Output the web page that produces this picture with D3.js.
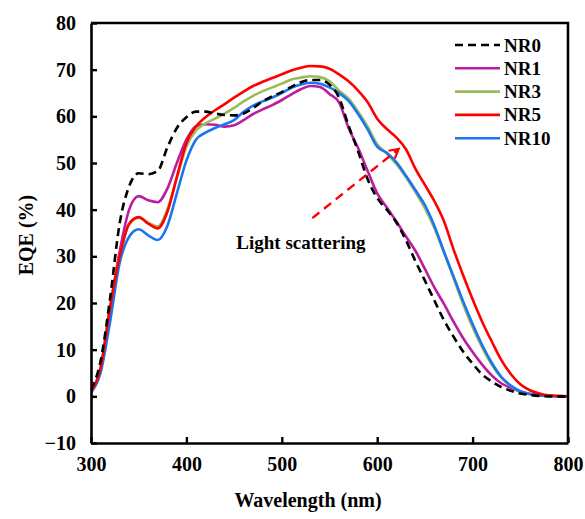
<!DOCTYPE html>
<html>
<head>
<meta charset="utf-8">
<script src="https://cdn.jsdelivr.net/npm/d3@7"></script>
<style>
  body { margin: 0; background: #fff; }
  text { font-family: "Liberation Serif", "Times New Roman", serif; font-weight: bold; }
</style>
</head>
<body>
<script>
// wavelength grid (nm)
const wavelength = [300,310,320,330,340,350,360,370,380,390,400,410,420,430,440,450,460,470,480,490,500,
  510,520,530,540,550,560,570,580,590,600,610,620,630,640,650,660,670,680,690,700,
  710,720,730,740,750,760,770,780,790,800];

// EQE (%) per sample
const nr0 = [1.5,7.5,21,37,45,47.8,47.6,48.3,53.3,57.5,59.8,61,61,60.6,60.3,60.2,60.6,61.8,63.2,64.3,65.2,
  66.3,67.3,67.8,67.8,66.8,64,58,52.5,46.5,42.5,40,37.3,33.5,29,24.8,20.5,16.3,12.8,9.6,7,
  4.7,3.2,2,1.2,0.6,0.3,0.1,0,0,0];
const nr1 = [1.2,6,19,31,40,42.9,42,41.6,44.5,50,55,57.9,58.3,58.2,57.8,58.1,59.2,60.5,61.5,62.4,63.5,
  64.7,65.8,66.5,66.3,64.8,63,57.5,53.2,48.3,43.5,40.5,37.5,34.3,31.2,27.3,23.3,19.8,16,12.5,9.5,
  6.8,4.5,2.8,1.8,1,0.5,0.2,0.1,0,0];
const nr3 = [1,6,19,30,36.8,38.3,37.2,36.4,40,46.8,53.5,57,58.5,59.5,60.6,61.8,63.2,64.4,65.4,66.2,67,
  67.9,68.3,68.6,68.4,67.5,65.5,63.8,61,57.8,54,52,49.8,47,43.8,40.3,36,30.8,25.3,19.8,14.8,
  10.5,6.8,4,2.2,1,0.5,0.2,0.1,0,0];
const nr5 = [1,6,19,30,37,38.4,37,36,39.5,47,54.3,57.8,59.8,61.3,62.6,64,65.3,66.5,67.4,68.2,69,
  69.8,70.4,70.8,70.7,70.2,69,67.5,65.5,63,59.5,57.3,55.5,53,48.8,45.3,41.8,37.5,31.5,26,20.8,
  16,11.8,7.8,4.8,2.6,1.3,0.6,0.2,0.1,0];
const nr10 = [0.8,5,16,28.5,34.2,35.8,34.5,33.5,36.5,43.5,50.5,55,56.5,57.5,58.3,59.2,61,62.3,63.2,64,65,
  66.1,66.8,67.2,67,66.2,65,63.3,60.5,57.2,53.5,52.2,50.2,47.3,44.2,41,36.5,31,25.7,20.4,15.5,
  11,7.2,4.2,2.3,1.1,0.5,0.2,0.1,0,0];

const seriesNames = ["NR0","NR1","NR3","NR5","NR10"];
const seriesValues = [nr0, nr1, nr3, nr5, nr10];
const seriesColors = ["#000000","#BC1C9E","#9BBB59","#FF0000","#1A75F0"];

const xTicks = [300,400,500,600,700,800];
const yTicks = [-10,0,10,20,30,40,50,60,70,80];

const w = 585, h = 519;
const margin = {left: 91, right: 17, top: 23, bottom: 76};

const svg = d3.select("body").append("svg")
  .attr("width", w)
  .attr("height", h);

const x = d3.scaleLinear().domain([300, 800]).range([margin.left, w - margin.right]);
const y = d3.scaleLinear().domain([-10, 80]).range([h - margin.bottom, margin.top]);

// clip for the curves
svg.append("clipPath").attr("id", "clip")
  .append("rect")
  .attr("x", margin.left).attr("y", margin.top)
  .attr("width", x(800) - x(300)).attr("height", y(-10) - y(80));

const line = d3.line()
  .x((d, i) => x(wavelength[i]))
  .y(d => y(d))
  .curve(d3.curveMonotoneX);

// draw curves (NR0 last so dashes sit on top like the figure)
const order = [1, 2, 4, 3, 0];
order.forEach(k => {
  svg.append("path")
    .datum(seriesValues[k])
    .attr("clip-path", "url(#clip)")
    .attr("fill", "none")
    .attr("stroke", seriesColors[k])
    .attr("stroke-width", 2.6)
    .attr("stroke-dasharray", k === 0 ? "8,5" : null)
    .attr("d", line);
});

// axes, ticks inward
const xAxis = svg.append("g")
  .attr("transform", `translate(0,${y(-10)})`)
  .call(d3.axisBottom(x).tickValues(xTicks).tickSizeInner(-6).tickSizeOuter(0).tickPadding(14));
const yAxis = svg.append("g")
  .attr("transform", `translate(${x(300)},0)`)
  .call(d3.axisLeft(y).tickValues(yTicks).tickSizeInner(-6).tickSizeOuter(0).tickPadding(15));

[xAxis, yAxis].forEach(g => {
  g.selectAll("path").attr("stroke", "#000").attr("stroke-width", 2.6);
  g.selectAll("line").attr("stroke", "#000").attr("stroke-width", 2.4);
  g.selectAll("text")
    .attr("fill", "#000")
    .style("font-size", "20px")
    .style("font-family", "'Liberation Serif', serif")
    .style("font-weight", "bold");
});

// top and right border
svg.append("path")
  .attr("fill", "none")
  .attr("stroke", "#000")
  .attr("stroke-width", 2.6)
  .attr("d", `M${x(300)},${y(80)}H${x(800)}V${y(-10)}`);

// axis titles
svg.append("text")
  .attr("x", 308)
  .attr("y", 507)
  .attr("text-anchor", "middle")
  .style("font-size", "20px")
  .text("Wavelength (nm)");

svg.append("text")
  .attr("transform", `translate(33,${(y(80) + y(-10)) / 2 + 2}) rotate(-90)`)
  .attr("text-anchor", "middle")
  .style("font-size", "20px")
  .text("EQE (%)");

// legend
const legend = svg.append("g");
seriesNames.forEach((name, i) => {
  const ly = 45 + i * 23.3;
  legend.append("line")
    .attr("x1", 455).attr("x2", 500)
    .attr("y1", ly).attr("y2", ly)
    .attr("stroke", seriesColors[i])
    .attr("stroke-width", 2.6)
    .attr("stroke-dasharray", i === 0 ? "8,5" : null);
  legend.append("text")
    .attr("x", 504).attr("y", ly + 6.5)
    .style("font-size", "19px")
    .text(name);
});

// annotation
svg.append("defs").append("marker")
  .attr("id", "arrow")
  .attr("viewBox", "0 0 12 12")
  .attr("refX", 10).attr("refY", 6)
  .attr("markerWidth", 12).attr("markerHeight", 12)
  .attr("markerUnits", "userSpaceOnUse")
  .attr("orient", "auto")
  .append("path")
  .attr("d", "M1,1L10,6L1,11")
  .attr("fill", "none")
  .attr("stroke", "#FF0000")
  .attr("stroke-width", 2.2);

svg.append("line")
  .attr("x1", x(532)).attr("y1", y(38.2))
  .attr("x2", x(622.5)).attr("y2", y(53))
  .attr("stroke", "#FF0000")
  .attr("stroke-width", 2.4)
  .attr("stroke-dasharray", "9,6")
  .attr("marker-end", "url(#arrow)");

svg.append("text")
  .attr("x", x(452.3))
  .attr("y", y(32.9) + 6)
  .style("font-size", "19px")
  .text("Light scattering");
</script>
</body>
</html>
